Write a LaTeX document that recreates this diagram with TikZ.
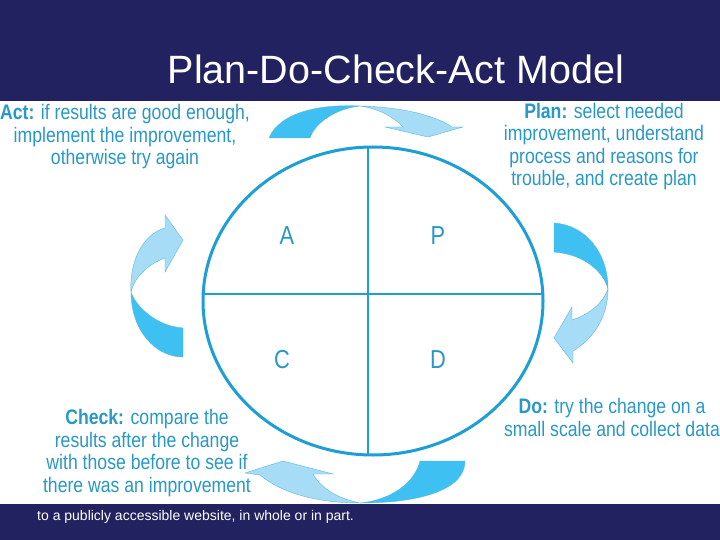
\documentclass[tikz,border=0pt]{standalone}
\usepackage{fontspec}
\setmainfont{Liberation Sans}
\newfontfamily\condsans[FakeStretch=0.84]{Liberation Sans}
\usetikzlibrary{positioning}
\definecolor{pdcanavy}{HTML}{222260}
\definecolor{pdcaring}{HTML}{1E9ED6}
\definecolor{pdcatext}{HTML}{2898C6}
\definecolor{pdcadark}{HTML}{3EC0F2}
\definecolor{pdcalight}{HTML}{A6DCF6}
\definecolor{pdcaedge}{HTML}{5BB8E0}
\tikzset{
  band/.style={fill=pdcanavy, draw=none},
  note/.style={font=\condsans\fontsize{21}{22.5}\selectfont, text=pdcatext, align=center, inner sep=0pt},
  quad/.style={font=\condsans\fontsize{26}{26}\selectfont, text=pdcatext, inner sep=0pt},
  turntail/.style={fill=pdcadark, draw=pdcaedge, line width=0.4pt},
  turnhead/.style={fill=pdcalight, draw=pdcaedge, line width=0.4pt},
  ring/.style={draw=pdcaring, line width=3pt},
  split/.style={draw=pdcaring, line width=2pt},
}
\begin{document}
\begin{tikzpicture}[x=1pt, y=-1pt]
    \useasboundingbox[fill=white] (0,0) rectangle (720,540);
    % the cycle
    \draw[ring] (373,301) ellipse [x radius=170pt, y radius=154pt];
    \draw[split] (368,147) -- (368,455);
    \draw[split] (203,294) -- (543,294);
    \foreach \nm/\x/\y in {A/287/236, P/438/236, C/282/360, D/438/360}
    { \node[quad] (q\nm) at (\x,\y) {\nm}; }
    % turning arrows: top, right, bottom, left
    \fill[turntail] (269,138) .. controls (280,112) and (320,104) .. (360,106)
      .. controls (338,108) and (315,122) .. (310,138) -- cycle;
    \fill[turnhead] (360,106) .. controls (400,107) and (435,115) .. (452,127)
      -- (463,127) -- (428,137) -- (385,127) -- (403,127)
      .. controls (392,115) and (375,108) .. (360,106) -- cycle;
    \fill[turntail] (554,223) .. controls (585,225) and (608,252) .. (608,289)
      .. controls (603,270) and (582,254) .. (554,252) -- cycle;
    \fill[turnhead] (608,289) .. controls (608,318) and (592,340) .. (573,351)
      -- (573,363) -- (554,338) -- (572,307) -- (572,320)
      .. controls (590,314) and (603,303) .. (608,289) -- cycle;
    \fill[turntail] (465,461) .. controls (465,490) and (420,503) .. (360,503)
      .. controls (392,500) and (415,482) .. (420,461) -- cycle;
    \fill[turnhead] (360,503) .. controls (315,503) and (280,492) .. (260,475)
      -- (245,473) -- (283,461) -- (333,474) -- (313,474)
      .. controls (322,490) and (340,499) .. (360,503) -- cycle;
    \fill[turntail] (183,357) .. controls (155,357) and (131,330) .. (131,292)
      .. controls (135,305) and (155,326) .. (183,328) -- cycle;
    \fill[turnhead] (131,292) .. controls (129,262) and (143,234) .. (165,228)
      -- (165,215) -- (183,240) -- (165,272) -- (165,258)
      .. controls (148,264) and (134,278) .. (131,292) -- cycle;
    % bands
    \fill[band] (0,0) rectangle (720,101);
    \fill[band] (0,504) rectangle (720,540);
    \node[text=white, font=\fontsize{39.5}{40}\selectfont, anchor=base, inner sep=0pt] (title) at (396,84) {Plan-Do-Check-Act Model};
    \node[text=white, font=\fontsize{14}{14}\selectfont, anchor=base west, inner sep=0pt] (footer) at (37,520) {to a publicly accessible website, in whole or in part.};
    % stage notes (base = last line)
    \node[note, anchor=base] (act) at (125,165) {\textbf{Act:} if results are good enough,\\implement the improvement,\\otherwise try again};
    \node[note, anchor=base] (plan) at (604,186) {\textbf{Plan:} select needed\\improvement, understand\\process and reasons for\\trouble, and create plan};
    \node[note, anchor=base] (do) at (612,436) {\textbf{Do:} try the change on a\\small scale and collect data};
    \node[note, anchor=base] (check) at (147,492) {\textbf{Check:} compare the\\results after the change\\with those before to see if\\there was an improvement};
\end{tikzpicture}
\end{document}
